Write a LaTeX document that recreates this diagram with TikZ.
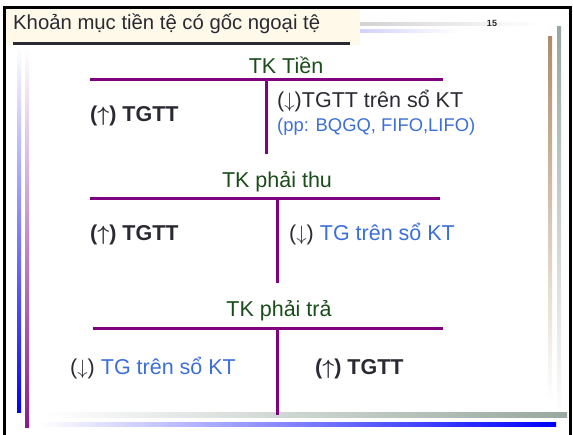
\documentclass[tikz,border=0pt]{standalone}
\usepackage{fontspec}
\setmainfont{Liberation Sans}
\definecolor{darktext}{HTML}{2B2A33}
\definecolor{headgreen}{HTML}{1B4D1B}
\definecolor{ltblue}{HTML}{3C6FD9}
\definecolor{tline}{HTML}{800080}
\definecolor{cream}{HTML}{FFF9EA}
\definecolor{barbrown}{HTML}{AE8C68}
\definecolor{bargray}{HTML}{98A89E}
\definecolor{barpurple}{HTML}{8B1A8B}
\newcommand{\upar}{{\boldmath$\uparrow$}}
\newcommand{\dnar}{\ensuremath{\downarrow}}
\tikzset{
  acct/.style={font=\fontsize{21.5}{25}\selectfont, text=headgreen, anchor=base, inner sep=0pt},
  body/.style={font=\fontsize{21.5}{25}\selectfont, text=darktext, anchor=base west, inner sep=0pt},
  bbody/.style={body, font=\fontsize{21.5}{25}\selectfont\bfseries},
  note/.style={font=\fontsize{18.4}{22}\selectfont, text=ltblue, anchor=base west, inner sep=0pt},
  tbar/.style={draw=tline, line width=3pt},
}
\begin{document}
\begin{tikzpicture}[x=1pt,y=-1pt]
\useasboundingbox (0,0) rectangle (573,435);
\fill[white] (0,0) rectangle (573,435);

% slide frame
\draw[line width=3pt] (4.5,435) -- (4.5,7.5) -- (570.5,7.5) -- (570.5,435);

% title band
\fill[cream] (6,9) rectangle (360,45);
\fill[darktext] (13,42.5) rectangle (350,45.5);
\node[font=\fontsize{20.3}{24}\selectfont, text=darktext, anchor=base west, inner sep=0pt] (title) at (13,30) {Khoản mục tiền tệ có gốc ngoại tệ};
\shade[left color=gray!35, right color=white] (360,22.5) rectangle (538,25.5);
\shade[left color=blue!18, right color=white] (360,30) rectangle (460,33);
\node[font=\fontsize{9}{10}\selectfont\bfseries, text=darktext, inner sep=0pt] (pageno) at (492,23) {15};

% decorative bars
\shade[top color=white, bottom color=blue] (17,47) rectangle (21,413);
\shade[top color=white, bottom color=barpurple] (25,47) rectangle (29,428);
\shade[top color=barbrown, bottom color=white] (548,37) rectangle (552,400);
\shade[top color=bargray, bottom color=white] (557,27) rectangle (561,420);
\shade[left color=white, right color=bargray] (45,413) rectangle (567,417.5);
\shade[left color=white, right color=blue] (40,422.5) rectangle (556,427);

% T-account: TK Tien
\node[acct] (h1) at (286,74) {TK Tiền};
\coordinate (a1l) at (90,80);
\coordinate (a1r) at (443,80);
\coordinate (a1t) at (266,80);
\coordinate (a1b) at (266,154);
\draw[tbar] (a1l) -- (a1r);
\draw[tbar] (a1t) -- (a1b);
\node[bbody] (d1) at (90,122) {(\upar) TGTT};
\node[body] (c1) at (277,108) {(\dnar)TGTT trên sổ KT};
\node[note] (n1) at (277,132) {(pp: BQGQ, FIFO,LIFO)};

% T-account: TK phai thu
\node[acct] (h2) at (277,188) {TK phải thu};
\coordinate (a2l) at (90,199);
\coordinate (a2r) at (440,199);
\coordinate (a2t) at (277,199);
\coordinate (a2b) at (277,283);
\draw[tbar] (a2l) -- (a2r);
\draw[tbar] (a2t) -- (a2b);
\node[bbody] (d2) at (90,241) {(\upar) TGTT};
\node[body] (c2) at (289,241) {(\dnar) \textcolor{ltblue}{TG trên sổ KT}};

% T-account: TK phai tra
\node[acct] (h3) at (279,317) {TK phải trả};
\coordinate (a3l) at (93,329);
\coordinate (a3r) at (443,329);
\coordinate (a3t) at (277,329);
\coordinate (a3b) at (277,415);
\draw[tbar] (a3l) -- (a3r);
\draw[tbar] (a3t) -- (a3b);
\node[body] (d3) at (70,375) {(\dnar) \textcolor{ltblue}{TG trên sổ KT}};
\node[bbody] (c3) at (315,375) {(\upar) TGTT};
\end{tikzpicture}
\end{document}
